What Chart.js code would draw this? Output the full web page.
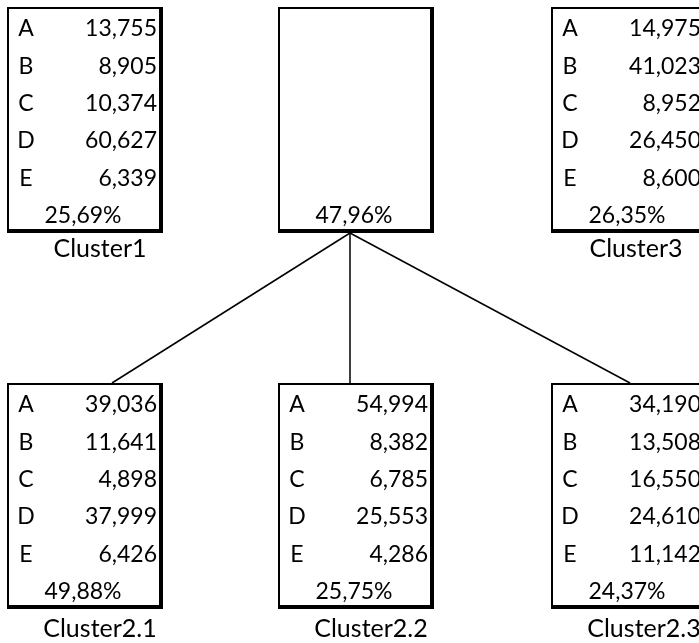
<!DOCTYPE html>
<html>
<head>
<meta charset="utf-8">
<script src="https://cdn.jsdelivr.net/npm/chart.js@4/dist/chart.umd.min.js"></script>
<style>
    body { margin: 0; background: #fff; }
    #wrap { width: 699px; height: 643px; }
</style>
</head>
<body>
<div id="wrap"><canvas id="treeChart"></canvas></div>
<script>
// data
const categories = ['A', 'B', 'C', 'D', 'E'];
const clusterLabels = ['Cluster1', '', 'Cluster3', 'Cluster2.1', 'Cluster2.2', 'Cluster2.3'];
const clusterShares = [25.69, 47.96, 26.35, 49.88, 25.75, 24.37];
const cluster1Values = [13.755, 8.905, 10.374, 60.627, 6.339];
const cluster2Values = [];
const cluster3Values = [14.975, 41.023, 8.952, 26.450, 8.600];
const cluster21Values = [39.036, 11.641, 4.898, 37.999, 6.426];
const cluster22Values = [54.994, 8.382, 6.785, 25.553, 4.286];
const cluster23Values = [34.190, 13.508, 16.550, 24.610, 11.142];
const clusterValues = [cluster1Values, cluster2Values, cluster3Values, cluster21Values, cluster22Values, cluster23Values];
const parentIndex = 1;
const childIndexes = [3, 4, 5];

// layout (axis units = px)
const nodeX = [85, 356, 629, 85, 356, 629];
const nodeTop = [7, 7, 7, 383, 383, 383];
const boxW = 156;
const boxH = 226;
const parentDx = -6;
const childDx = [27, -6, 1];
const rowDy = 22, rowStep = 37.3;
const labelDx = [15, 0, 7, 15, 15, 15];
const labelDy = [16, 16, 16, 20, 20, 20];

function fmt(v, d) {
    return v.toFixed(d).replace('.', ',');
}

const edgeSets = childIndexes.map((c, i) => ({
    data: [
        { x: nodeX[parentIndex] + parentDx, y: nodeTop[parentIndex] + boxH },
        { x: nodeX[c] + childDx[i], y: nodeTop[c] }
    ],
    showLine: true,
    borderColor: '#000',
    borderWidth: 1.5,
    pointRadius: 0
}));

const boxPlugin = {
    id: 'boxes',
    afterDatasetsDraw(chart) {
        const ctx = chart.ctx;
        const xs = chart.scales.x, ys = chart.scales.y;
        ctx.save();
        for (let n = 0; n < nodeX.length; n++) {
            const l = xs.getPixelForValue(nodeX[n] - boxW / 2);
            const r = xs.getPixelForValue(nodeX[n] + boxW / 2);
            const t = ys.getPixelForValue(nodeTop[n]);
            const b = ys.getPixelForValue(nodeTop[n] + boxH);
            ctx.fillStyle = '#fff';
            ctx.fillRect(l, t, r - l, b - t);
            ctx.fillStyle = '#000';
            ctx.fillRect(l, t, r - l, 2);
            ctx.fillRect(l, t, 2, b - t);
            ctx.fillRect(r - 4, t, 4, b - t);
            ctx.fillRect(l, b - 4, r - l, 4);

            ctx.textBaseline = 'middle';
            ctx.font = '23px Lato';
            const vals = clusterValues[n];
            for (let i = 0; i < vals.length; i++) {
                const y = ys.getPixelForValue(nodeTop[n] + rowDy + rowStep * i);
                ctx.textAlign = 'center';
                ctx.fillText(categories[i], l + 19, y);
                ctx.textAlign = 'right';
                ctx.fillText(fmt(vals[i], 3), r - 6, y);
            }
            const py = ys.getPixelForValue(nodeTop[n] + rowDy + rowStep * 5);
            ctx.textAlign = 'center';
            ctx.fillText(fmt(clusterShares[n], 2) + '%', (l + r) / 2 - 2, py);

            if (clusterLabels[n]) {
                ctx.font = '25px Lato';
                const ly = ys.getPixelForValue(nodeTop[n] + boxH + labelDy[n]);
                ctx.fillText(clusterLabels[n], (l + r) / 2 + labelDx[n], ly);
            }
        }
        ctx.restore();
    }
};

new Chart(document.getElementById('treeChart'), {
    type: 'scatter',
    data: { datasets: edgeSets },
    options: {
        animation: false,
        responsive: true,
        maintainAspectRatio: false,
        layout: { padding: 0 },
        plugins: {
            legend: { display: false },
            tooltip: { enabled: false }
        },
        scales: {
            x: { type: 'linear', min: 0, max: 699, display: false },
            y: { type: 'linear', min: 0, max: 643, reverse: true, display: false }
        }
    },
    plugins: [boxPlugin]
});
</script>
</body>
</html>
